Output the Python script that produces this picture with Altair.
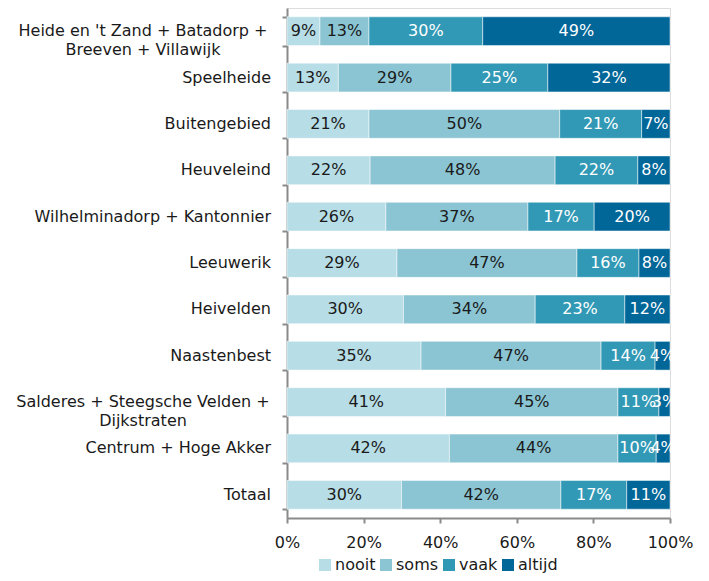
import altair as alt
import pandas as pd

categories = [
    "Heide en 't Zand + Batadorp +|Breeven + Villawijk",
    "Speelheide",
    "Buitengebied",
    "Heuveleind",
    "Wilhelminadorp + Kantonnier",
    "Leeuwerik",
    "Heivelden",
    "Naastenbest",
    "Salderes + Steegsche Velden +|Dijkstraten",
    "Centrum + Hoge Akker",
    "Totaal",
]
series = ["nooit", "soms", "vaak", "altijd"]
nooit = [8.6, 13.4, 21.4, 21.7, 25.8, 28.7, 30.4, 35.0, 41.4, 42.4, 29.9]
soms = [12.8, 29.4, 49.8, 48.3, 37.1, 47.0, 34.4, 47.0, 45.0, 44.0, 41.6]
vaak = [29.7, 25.3, 21.4, 21.6, 17.3, 16.2, 23.4, 14.1, 10.7, 10.0, 17.2]
altijd = [48.9, 31.9, 7.4, 8.4, 19.8, 8.1, 11.8, 3.9, 2.9, 3.6, 11.3]
colors = ["#b7dde6", "#8bc5d3", "#3199b5", "#016698"]
x_ticks = [0, 20, 40, 60, 80, 100]

rows = []
x0s = {}
for si, (name, vals) in enumerate(zip(series, [nooit, soms, vaak, altijd])):
    for ci, (cat, v) in enumerate(zip(categories, vals)):
        start = x0s.get(cat, 0.0)
        rows.append({"cat": cat, "series": name, "rank": si, "value": v,
                     "x0": start, "x1": start + v, "mid": start + v / 2,
                     "label": f"{round(v)}%"})
        x0s[cat] = start + v
df = pd.DataFrame(rows)
cat_df = pd.DataFrame({"cat": categories,
                       "multi": ["|" in c for c in categories]})

y_scale = alt.Scale(domain=categories, paddingInner=0.38, paddingOuter=0.19)
x_scale = alt.Scale(domain=[0, 100], nice=False)

bars = alt.Chart(df).mark_bar(stroke="white", strokeWidth=0.5).encode(
    y=alt.Y("cat:N", sort=categories, title=None, scale=y_scale,
            axis=alt.Axis(labels=False, tickBand="extent", tickSize=5,
                          tickColor="#8a8a8a", tickWidth=2,
                          domainColor="#8a8a8a", domainWidth=2, grid=False)),
    x=alt.X("x0:Q", title=None, scale=x_scale,
            axis=alt.Axis(values=x_ticks, labelExpr="datum.value + '%'",
                          labelFontSize=16, labelColor="#1a1a1a", labelPadding=11,
                          labelFlush=False, labelOverlap=False,
                          tickSize=5, tickColor="#8a8a8a", tickWidth=2,
                          domainColor="#8a8a8a", domainWidth=2, grid=False)),
    x2="x1:Q",
    color=alt.Color("series:N", sort=series,
                    scale=alt.Scale(domain=series, range=colors),
                    legend=alt.Legend(orient="none", legendX=30, legendY=549,
                                      direction="horizontal", title=None,
                                      symbolType="square", symbolSize=144,
                                      symbolStrokeWidth=0, labelFontSize=16,
                                      labelColor="#1a1a1a", columnPadding=2,
                                      gridAlign="none",
                                      labelOffset=2, padding=0)),
)

texts = alt.Chart(df).mark_text(fontSize=16, baseline="middle", align="center").encode(
    y=alt.Y("cat:N", sort=categories, scale=y_scale),
    x=alt.X("mid:Q", scale=x_scale),
    text="label:N",
    color=alt.condition("datum.rank >= 2", alt.value("white"), alt.value("#1a1a1a")),
)

ylab_single = alt.Chart(cat_df).transform_filter("!datum.multi").mark_text(
    fontSize=16, align="right", baseline="middle", color="#1a1a1a"
).encode(
    y=alt.Y("cat:N", sort=categories, scale=y_scale),
    x=alt.value(-16),
    text="cat:N",
)

ylab_multi = alt.Chart(cat_df).transform_filter("datum.multi").mark_text(
    fontSize=16, align="center", baseline="middle", color="#1a1a1a",
    lineBreak="|", lineHeight=19
).encode(
    y=alt.Y("cat:N", sort=categories, scale=y_scale),
    x=alt.value(-144),
    text="cat:N",
)

chart = alt.layer(bars, texts, ylab_single, ylab_multi).properties(
    width=383, height=510,
    autosize=alt.AutoSizeParams(type="none"),
    padding={"left": 279, "top": 0, "right": 30, "bottom": 55},
).configure_view(stroke=None).configure(font="DejaVu Sans")

chart.save("out.html", embed_options={"renderer": "svg", "actions": False})
